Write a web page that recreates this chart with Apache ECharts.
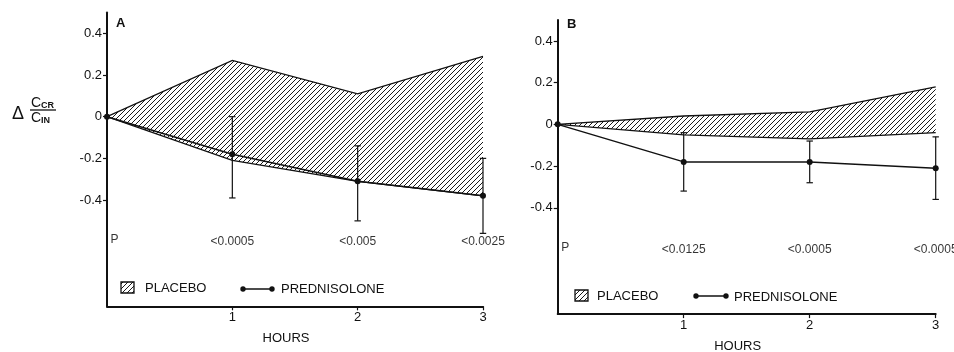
<!DOCTYPE html>
<html>
<head>
<meta charset="utf-8">
<script src="https://cdn.jsdelivr.net/npm/echarts@6/dist/echarts.min.js"></script>
<style>
html,body{margin:0;padding:0;background:#fff;}
#chart{width:954px;height:352px;}
</style>
</head>
<body>
<div id="chart"></div>
<script>
// ---- data ----
const hours = [0, 1, 2, 3];
const placeboHighA = [0, 0.27, 0.11, 0.29];
const placeboLowA = [0, -0.21, -0.31, -0.38];
const predA = [0, -0.18, -0.31, -0.38];
const errLowA = [null, -0.39, -0.50, -0.56];
const errHighA = [null, 0.00, -0.14, -0.20];

const placeboHighB = [0, 0.04, 0.06, 0.18];
const placeboLowB = [0, -0.05, -0.07, -0.04];
const predB = [0, -0.18, -0.18, -0.21];
const errLowB = [null, -0.32, -0.28, -0.36];
const errHighB = [null, -0.04, -0.08, -0.06];

const pValuesA = ['<0.0005', '<0.005', '<0.0025'];
const pValuesB = ['<0.0125', '<0.0005', '<0.0005'];
const yTicks = [-0.4, -0.2, 0, 0.2, 0.4];
const xTicks = [1, 2, 3];
const pRowY = -0.6;

// ---- hatch pattern ----
function makeHatch() {
  const c = document.createElement('canvas');
  const w = 5, h = 5;
  c.width = w; c.height = h;
  const ctx = c.getContext('2d');
  ctx.fillStyle = '#fff';
  ctx.fillRect(0, 0, w, h);
  ctx.strokeStyle = '#1a1a1a';
  ctx.lineWidth = 1.0;
  for (const dx of [-w, 0, w]) {
    ctx.beginPath();
    ctx.moveTo(dx - 1, h + 1);
    ctx.lineTo(dx + w + 1, -1);
    ctx.stroke();
  }
  return c;
}
const hatch = makeHatch();

const FONT = '"Liberation Sans", Arial, Helvetica, sans-serif';
const INK = '#111';

const chart = echarts.init(document.getElementById('chart'), null, {renderer: 'canvas'});

function pairs(xs, ys) { return xs.map((x, i) => [x, ys[i]]); }
function errData(lo, hi) {
  const out = [];
  hours.forEach((x, i) => { if (lo[i] !== null) out.push([x, lo[i], hi[i]]); });
  return out;
}
function errRender(params, api) {
  const x = api.value(0);
  const lo = api.coord([x, api.value(1)]);
  const hi = api.coord([x, api.value(2)]);
  const w = 3.2;
  const st = {stroke: INK, lineWidth: 1.2};
  return {type: 'group', children: [
    {type: 'line', shape: {x1: lo[0], y1: lo[1], x2: hi[0], y2: hi[1]}, style: st},
    {type: 'line', shape: {x1: lo[0] - w, y1: lo[1], x2: lo[0] + w, y2: lo[1]}, style: st},
    {type: 'line', shape: {x1: hi[0] - w, y1: hi[1], x2: hi[0] + w, y2: hi[1]}, style: st}
  ]};
}
function bandRenderer(hiArr, loArr) {
  return function (params, api) {
    if (params.dataIndex !== 0) return null;
    const up = hours.map((x, i) => api.coord([x, hiArr[i]]));
    const dn = hours.map((x, i) => api.coord([x, loArr[i]]));
    const poly = up.concat(dn.slice().reverse());
    return {type: 'group', children: [
      {type: 'polygon', shape: {points: poly}, style: {fill: {image: hatch, repeat: 'repeat'}, stroke: null}},
      {type: 'polyline', shape: {points: up}, style: {stroke: INK, lineWidth: 1.3, fill: null}},
      {type: 'polyline', shape: {points: dn}, style: {stroke: INK, lineWidth: 1.3, fill: null}}
    ]};
  };
}

function axesFor(gi) {
  const x = {
    type: 'value', gridIndex: gi, min: 0, max: 3,
    axisLine: {onZero: false, lineStyle: {color: INK, width: 2}},
    axisTick: {show: true, length: 4, customValues: xTicks, lineStyle: {color: INK, width: 1.2}},
    axisLabel: {customValues: xTicks, color: INK, fontFamily: FONT, fontSize: 13, margin: 5},
    splitLine: {show: false},
    name: 'HOURS', nameLocation: 'middle', nameGap: 26,
    nameTextStyle: {color: INK, fontFamily: FONT, fontSize: 13, padding: [0, 18, 0, 0]}
  };
  const y = {
    type: 'value', gridIndex: gi, min: -0.91, max: 0.5,
    axisLine: {onZero: false, lineStyle: {color: INK, width: 2}},
    axisTick: {show: true, length: 4, customValues: yTicks, lineStyle: {color: INK, width: 1.2}},
    axisLabel: {customValues: yTicks, color: INK, fontFamily: FONT, fontSize: 13, margin: 5,
      formatter: v => (Math.abs(v) < 1e-9 ? '0' : v.toFixed(1))},
    splitLine: {show: false}
  };
  return [x, y];
}
const [xA, yA] = axesFor(0);
const [xB, yB] = axesFor(1);

function panelSeries(gi, hiArr, loArr, pred, eLo, eHi, pvals) {
  return [
    {
      type: 'custom', xAxisIndex: gi, yAxisIndex: gi, silent: true, z: 2,
      data: hours.map((x, i) => [x, loArr[i], hiArr[i]]),
      encode: {x: 0, y: [1, 2]},
      renderItem: bandRenderer(hiArr, loArr)
    },
    {
      type: 'line', xAxisIndex: gi, yAxisIndex: gi, data: pairs(hours, pred),
      symbol: 'circle', symbolSize: 6, showSymbol: true, silent: true,
      lineStyle: {color: INK, width: 1.5}, itemStyle: {color: INK}, z: 4
    },
    {
      type: 'custom', xAxisIndex: gi, yAxisIndex: gi, data: errData(eLo, eHi),
      renderItem: errRender, encode: {x: 0, y: [1, 2]}, silent: true, z: 3
    },
    {
      type: 'scatter', xAxisIndex: gi, yAxisIndex: gi, silent: true,
      data: pvals.map((t, i) => [xTicks[i], pRowY, t]).concat([[0.06, -0.59, 'P']]),
      symbolSize: 1, itemStyle: {color: 'rgba(0,0,0,0)'},
      label: {show: true, position: 'inside', formatter: p => p.data[2],
        color: '#000', fontFamily: FONT, fontSize: 12, textBorderWidth: 0}
    }
  ];
}

function legendGraphics(bx, by, tx, dx1, dx2, dy, t2x, ty) {
  return [
    {type: 'rect', shape: {x: bx, y: by, width: 13, height: 11},
      style: {fill: {image: hatch, repeat: 'repeat'}, stroke: INK, lineWidth: 1.3}},
    {type: 'text', x: tx, y: ty, style: {text: 'PLACEBO', fill: INK, font: '13px ' + FONT, verticalAlign: 'middle'}},
    {type: 'line', shape: {x1: dx1, y1: dy, x2: dx2, y2: dy}, style: {stroke: INK, lineWidth: 1.5}},
    {type: 'circle', shape: {cx: dx1, cy: dy, r: 2.7}, style: {fill: INK}},
    {type: 'circle', shape: {cx: dx2, cy: dy, r: 2.7}, style: {fill: INK}},
    {type: 'text', x: t2x, y: ty + 1, style: {text: 'PREDNISOLONE', fill: INK, font: '13px ' + FONT, verticalAlign: 'middle'}}
  ];
}

const option = {
  animation: false,
  backgroundColor: '#fff',
  grid: [
    {left: 107, top: 12.5, width: 376, height: 293.8, outerBoundsMode: 'none', containLabel: false},
    {left: 557.7, top: 20.1, width: 378, height: 294, outerBoundsMode: 'none', containLabel: false}
  ],
  xAxis: [xA, xB],
  yAxis: [yA, yB],
  series: [].concat(
    panelSeries(0, placeboHighA, placeboLowA, predA, errLowA, errHighA, pValuesA),
    panelSeries(1, placeboHighB, placeboLowB, predB, errLowB, errHighB, pValuesB)
  ),
  graphic: [].concat(
    [
      {type: 'text', x: 116, y: 23, style: {text: 'A', fill: INK, font: 'bold 13px ' + FONT, verticalAlign: 'middle'}},
      {type: 'text', x: 567, y: 24, style: {text: 'B', fill: INK, font: 'bold 13px ' + FONT, verticalAlign: 'middle'}},
      {type: 'text', x: 18, y: 114, style: {text: 'Δ', fill: INK, font: '18px ' + FONT, align: 'center', verticalAlign: 'middle'}},
      {type: 'text', x: 31, y: 103, style: {text: '{c|C}{s|CR}', verticalAlign: 'middle',
        rich: {c: {fontSize: 14, fontFamily: FONT, fill: INK}, s: {fontSize: 9, fontFamily: FONT, fill: INK, fontWeight: 'bold', verticalAlign: 'bottom', padding: [5, 0, 0, 0]}}}},
      {type: 'line', shape: {x1: 30, y1: 110, x2: 56, y2: 110}, style: {stroke: INK, lineWidth: 1.3}},
      {type: 'text', x: 31, y: 118, style: {text: '{c|C}{s|IN}', verticalAlign: 'middle',
        rich: {c: {fontSize: 14, fontFamily: FONT, fill: INK}, s: {fontSize: 9, fontFamily: FONT, fill: INK, fontWeight: 'bold', verticalAlign: 'bottom', padding: [5, 0, 0, 0]}}}}
    ],
    legendGraphics(121, 282, 145, 243, 272, 289, 281, 288),
    legendGraphics(575, 290, 597, 696, 726, 296, 734, 296)
  )
};
chart.setOption(option);
</script>
</body>
</html>
